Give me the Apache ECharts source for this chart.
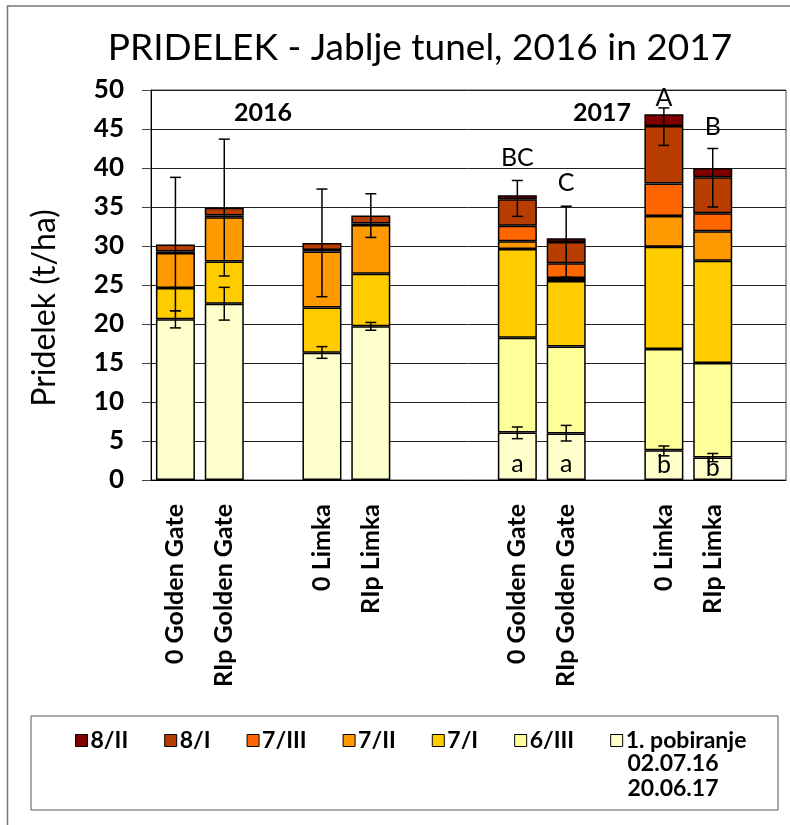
<!DOCTYPE html>
<html>
<head>
<meta charset="utf-8">
<script src="https://cdn.jsdelivr.net/npm/echarts@6/dist/echarts.min.js"></script>
<style>
  html, body { margin: 0; padding: 0; background: #fff; }
  #main { width: 790px; height: 825px; }
</style>
</head>
<body>
<div id="main"></div>
<script>
// categories (empty slots are gaps between groups)
const categories = ['0 Golden Gate', 'RIp Golden Gate', '', '0 Limka', 'RIp Limka', '', '',
  '0 Golden Gate', 'RIp Golden Gate', '', '0 Limka', 'RIp Limka', ''];

// harvest segments, t/ha (bottom to top of stack)
const pob1  = [20.6, 22.6, null, 16.3, 19.7, null, null, 6.1, 5.95, null, 3.8, 2.9, null];
const jun3  = [null, null, null, null, null, null, null, 12.15, 11.15, null, 13.0, 12.1, null];
const jul1  = [4.0, 5.4, null, 5.8, 6.75, null, null, 11.35, 8.4, null, 13.1, 13.1, null];
const jul2  = [4.5, 5.7, null, 7.2, 6.25, null, null, 1.0, 0.4, null, 3.95, 3.8, null];
const jul3  = [0.2, 0.2, null, 0.2, 0.2, null, null, 2.0, 1.9, null, 4.15, 2.3, null];
const aug1  = [0.9, 1.0, null, 0.9, 1.0, null, null, 3.4, 2.7, null, 7.4, 4.6, null];
const aug2  = [null, null, null, null, null, null, null, 0.5, 0.5, null, 1.5, 1.2, null];

// error bars (low / high)
const errTotalLow  = [21.7, 26.15, null, 23.5, 31.1, null, null, 33.8, 26.0, null, 42.9, 35.0, null];
const errTotalHigh = [38.8, 43.7, null, 37.3, 36.7, null, null, 38.4, 35.1, null, 47.7, 42.5, null];
const errFirstLow  = [19.5, 20.5, null, 15.6, 19.2, null, null, 5.3, 5.0, null, 3.1, 2.35, null];
const errFirstHigh = [21.7, 24.7, null, 17.1, 20.2, null, null, 6.8, 7.0, null, 4.36, 3.4, null];

// significance letters
const letterCats = [7, 8, 10, 11, 7, 8, 10, 11];
const letterText = ['BC', 'C', 'A', 'B', 'a', 'a', 'b', 'b'];
const letterY    = [41.3, 38.1, 49.0, 45.3, 2.0, 2.0, 1.9, 1.5];

const yTicks = [0, 50, 5]; // min, max, interval

const FONT = 'Lato';

const stackDefs = [
  { name: '1. pobiranje', data: pob1, color: '#FFFFCC' },
  { name: '6/III', data: jun3, color: '#FFFF99' },
  { name: '7/I', data: jul1, color: '#FFCC00' },
  { name: '7/II', data: jul2, color: '#FF9900' },
  { name: '7/III', data: jul3, color: '#FF6600' },
  { name: '8/I', data: aug1, color: '#B83D00' },
  { name: '8/II', data: aug2, color: '#800000' }
];

const barSeries = stackDefs.map(d => ({
  name: d.name,
  type: 'bar',
  stack: 'total',
  barWidth: 39,
  data: d.data,
  itemStyle: { color: d.color, borderColor: '#000', borderWidth: 1.5 }
}));

const errData = [];
categories.forEach((c, i) => {
  if (errTotalLow[i] != null) errData.push([i, errTotalLow[i], errTotalHigh[i]]);
  if (errFirstLow[i] != null) errData.push([i, errFirstLow[i], errFirstHigh[i]]);
});

const letterData = letterCats.map((c, i) => [c, letterY[i], letterText[i]]);

const chart = echarts.init(document.getElementById('main'));
chart.setOption({
  animation: false,
  textStyle: { fontFamily: FONT, color: '#000' },
  title: {
    text: 'PRIDELEK - Jablje tunel, 2016 in 2017',
    left: 415,
    textAlign: 'center',
    top: 25,
    textStyle: { fontFamily: FONT, fontSize: 37, fontWeight: 'normal', color: '#000' }
  },
  grid: {
    left: 151, right: 4, top: 90, bottom: 345,
    show: true, borderColor: '#444', borderWidth: 1
  },
  legend: {
    data: ['8/II', '8/I', '7/III', '7/II', '7/I', '6/III', '1. pobiranje'],
    left: 70,
    top: 724,
    icon: 'rect',
    itemWidth: 12,
    itemHeight: 12,
    itemGap: 36,
    textStyle: { fontFamily: FONT, fontSize: 23, fontWeight: 'bold', color: '#000', padding: [0, 0, 0, -2] },
    itemStyle: { borderColor: '#000', borderWidth: 1 }
  },
  xAxis: {
    type: 'category',
    data: categories,
    axisLine: { lineStyle: { color: '#000', width: 1 } },
    axisTick: { length: 10, lineStyle: { color: '#444' } },
    axisLabel: {
      interval: 0,
      rotate: 90,
      margin: 24,
      fontFamily: FONT,
      fontSize: 25,
      fontWeight: 'bold',
      color: '#000'
    }
  },
  yAxis: {
    type: 'value',
    min: yTicks[0], max: yTicks[1], interval: yTicks[2],
    axisLine: { show: true, lineStyle: { color: '#000' } },
    axisTick: { show: true, length: 9, lineStyle: { color: '#444' } },
    axisLabel: { margin: 27, fontFamily: FONT, fontSize: 26, fontWeight: 'bold', color: '#000' },
    splitLine: { lineStyle: { color: '#222', width: 1 } }
  },
  graphic: [
    { type: 'rect', shape: { x: 7.5, y: 6, width: 900, height: 900 },
      style: { fill: 'none', stroke: '#777', lineWidth: 1.5 }, silent: true },
    { type: 'rect', shape: { x: 31, y: 716, width: 747, height: 94 },
      style: { fill: 'none', stroke: '#555', lineWidth: 1 }, silent: true },
    { type: 'text', x: 45, y: 308, rotation: Math.PI / 2,
      style: { text: 'Pridelek (t/ha)', font: '32px ' + FONT, fill: '#000', textAlign: 'center', textVerticalAlign: 'middle' } },
    { type: 'text', x: 263, y: 113,
      style: { text: '2016', font: 'bold 25px ' + FONT, fill: '#000', textAlign: 'center', textVerticalAlign: 'middle' } },
    { type: 'text', x: 602, y: 113,
      style: { text: '2017', font: 'bold 25px ' + FONT, fill: '#000', textAlign: 'center', textVerticalAlign: 'middle' } },
    { type: 'text', x: 673, y: 751,
      style: { text: '02.07.16\n20.06.17', font: 'bold 23px ' + FONT, fill: '#000', textAlign: 'center', lineHeight: 25 } }
  ],
  series: barSeries.concat([
    {
      type: 'custom',
      name: 'err',
      z: 10,
      data: errData,
      renderItem: function (params, api) {
        const x = api.value(0);
        const lo = api.coord([x, api.value(1)]);
        const hi = api.coord([x, api.value(2)]);
        const w = 5.5;
        const st = { stroke: '#000', lineWidth: 1.5 };
        return {
          type: 'group',
          children: [
            { type: 'line', shape: { x1: lo[0], y1: lo[1], x2: hi[0], y2: hi[1] }, style: st },
            { type: 'line', shape: { x1: lo[0] - w, y1: lo[1], x2: lo[0] + w, y2: lo[1] }, style: st },
            { type: 'line', shape: { x1: hi[0] - w, y1: hi[1], x2: hi[0] + w, y2: hi[1] }, style: st }
          ]
        };
      }
    },
    {
      type: 'custom',
      name: 'letters',
      z: 11,
      data: letterData,
      renderItem: function (params, api) {
        const p = api.coord([api.value(0), api.value(1)]);
        return {
          type: 'text',
          x: p[0],
          y: p[1],
          style: {
            text: letterText[params.dataIndex],
            font: '25px ' + FONT,
            fill: '#000',
            textAlign: 'center',
            textVerticalAlign: 'middle'
          }
        };
      }
    }
  ])
});
</script>
</body>
</html>
